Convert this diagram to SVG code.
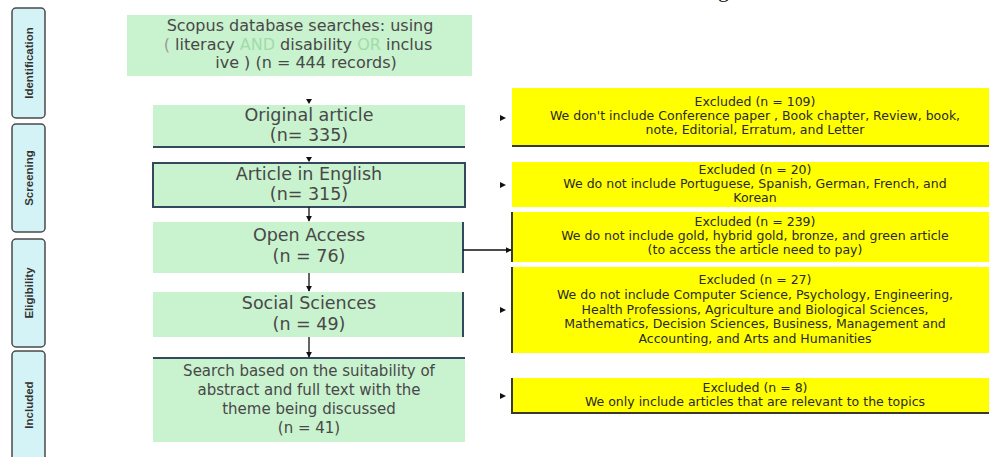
<svg xmlns="http://www.w3.org/2000/svg" width="989" height="457" viewBox="0 0 989 457">
<style>
.side{fill:#d4f3f7;stroke:#4a4a4a;stroke-width:1.5}
.sl{font-family:"Liberation Sans",Arial,sans-serif;font-size:11.5px;font-weight:bold;fill:#333;text-anchor:middle}
.g{fill:#c9f2cf}
.ft{font-family:"DejaVu Sans","Liberation Sans",sans-serif;font-size:17.5px;fill:#484848;text-anchor:middle}
.ft16{font-size:16px}
.ft15{font-size:15px}
.lt{fill:#9fdca8}
.y{fill:#ffff00}
.yt{font-family:"DejaVu Sans","Liberation Sans",sans-serif;font-size:12.5px;fill:#2a2a2a;text-anchor:middle}
.bd{stroke:#34495e;stroke-width:2;fill:none}
.ybd{stroke:#3a3a2a;stroke-width:2;fill:none}
.c{stroke:#111;stroke-width:1.3;fill:none}
.ah{fill:#111}
</style>
<defs>
<marker id="arr" viewBox="0 0 8 8" refX="7" refY="4" markerWidth="6" markerHeight="6" orient="auto" markerUnits="userSpaceOnUse">
<path d="M0,0 L8,4 L0,8 z" fill="#111"/>
</marker>
</defs>
<rect width="989" height="457" fill="#ffffff"/>
<text x="718" y="-3" font-family="Liberation Serif,serif" font-size="22" fill="#111">g</text>

<g id="side-identification"><rect class="side" x="12" y="8" width="33" height="110" rx="4"/><text class="sl" transform="translate(33,63) rotate(-90)">Identification</text></g>
<g id="side-screening"><rect class="side" x="12" y="124" width="33" height="108" rx="4"/><text class="sl" transform="translate(33,178) rotate(-90)">Screening</text></g>
<g id="side-eligibility"><rect class="side" x="12" y="239" width="33" height="108" rx="4"/><text class="sl" transform="translate(33,293) rotate(-90)">Eligibility</text></g>
<g id="side-included"><rect class="side" x="12" y="351" width="33" height="112" rx="4"/><text class="sl" transform="translate(33,405) rotate(-90)">Included</text></g>

<g id="n-scopus"><rect class="g" x="127" y="15" width="345" height="61"/>
<text class="ft ft16" x="300" y="31">Scopus database searches: using</text>
<text class="ft ft16" x="298" y="49.5"><tspan fill="#9a9a9a">(</tspan> literacy <tspan class="lt">AND</tspan> disability <tspan class="lt">OR</tspan> inclus</text>
<text class="ft ft16" x="306" y="68">ive ) (n = 444 records)</text></g>

<g id="n-original"><rect class="g" x="153" y="105" width="312" height="42"/><line class="bd" x1="153" y1="147" x2="465" y2="147"/>
<text class="ft" x="309" y="121">Original article</text><text class="ft" x="309" y="141">(n= 335)</text></g>

<g id="n-english"><rect class="g" x="153" y="163" width="312" height="44"/><rect class="bd" x="153" y="163" width="312" height="44"/>
<text class="ft" x="309" y="180">Article in English</text><text class="ft" x="309" y="200">(n= 315)</text></g>

<g id="n-open"><rect class="g" x="153" y="222" width="310" height="51"/><line class="bd" x1="463" y1="222" x2="463" y2="273"/>
<text class="ft" x="309" y="241">Open Access</text><text class="ft" x="309" y="262">(n = 76)</text></g>

<g id="n-social"><rect class="g" x="153" y="292" width="310" height="45"/><line class="bd" x1="463" y1="292" x2="463" y2="337"/>
<text class="ft" x="309" y="309">Social Sciences</text><text class="ft" x="309" y="330">(n = 49)</text></g>

<g id="n-search"><rect class="g" x="153" y="358" width="312" height="84"/><line class="bd" x1="153" y1="358" x2="465" y2="358"/>
<text class="ft ft15" x="309" y="376">Search based on the suitability of</text>
<text class="ft ft15" x="309" y="395">abstract and full text with the</text>
<text class="ft ft15" x="309" y="414">theme being discussed</text>
<text class="ft ft15" x="309" y="433">(n = 41)</text></g>

<g id="x-1"><rect class="y" x="512" y="88" width="477" height="58"/><line class="ybd" x1="512" y1="146" x2="989" y2="146"/>
<text class="yt" x="755" y="106">Excluded (n = 109)</text>
<text class="yt" x="755" y="120">We don't include Conference paper , Book chapter, Review, book,</text>
<text class="yt" x="755" y="134">note, Editorial, Erratum, and Letter</text></g>

<g id="x-2"><rect class="y" x="512" y="162" width="477" height="45"/>
<text class="yt" x="755" y="174">Excluded (n = 20)</text>
<text class="yt" x="755" y="188">We do not include Portuguese, Spanish, German, French, and</text>
<text class="yt" x="755" y="202">Korean</text></g>

<g id="x-3"><rect class="y" x="512" y="212" width="477" height="50"/><line class="ybd" x1="512" y1="212" x2="512" y2="262"/>
<text class="yt" x="755" y="226">Excluded (n = 239)</text>
<text class="yt" x="755" y="240">We do not include gold, hybrid gold, bronze, and green article</text>
<text class="yt" x="755" y="254">(to access the article need to pay)</text></g>

<g id="x-4"><rect class="y" x="512" y="267" width="477" height="86"/><line class="ybd" x1="512" y1="267" x2="512" y2="353"/>
<text class="yt" x="755" y="284">Excluded (n = 27)</text>
<text class="yt" x="755" y="299">We do not include Computer Science, Psychology, Engineering,</text>
<text class="yt" x="755" y="313.5">Health Professions, Agriculture and Biological Sciences,</text>
<text class="yt" x="755" y="328">Mathematics, Decision Sciences, Business, Management and</text>
<text class="yt" x="755" y="342.5">Accounting, and Arts and Humanities</text></g>

<g id="x-5"><rect class="y" x="512" y="378" width="477" height="35"/><polyline class="ybd" points="512,378 512,413 989,413"/>
<text class="yt" x="755" y="392">Excluded (n = 8)</text>
<text class="yt" x="755" y="406">We only include articles that are relevant to the topics</text></g>

<g id="connectors">
<path class="ah" d="M306,99 L312,99 L309,104 z"/>
<path class="ah" d="M306,157 L312,157 L309,162 z"/>
<line class="c" x1="309" y1="207" x2="309" y2="221" marker-end="url(#arr)"/>
<line class="c" x1="309" y1="273" x2="309" y2="291" marker-end="url(#arr)"/>
<line class="c" x1="309" y1="337" x2="309" y2="357" marker-end="url(#arr)"/>
<line class="c" x1="463" y1="250" x2="511" y2="250" marker-end="url(#arr)"/>
<path class="ah" d="M500,115 L506,118 L500,121 z"/>
<path class="ah" d="M500,182 L506,185 L500,188 z"/>
<path class="ah" d="M500,307 L506,310 L500,313 z"/>
<path class="ah" d="M500,393 L506,396 L500,399 z"/>
</g>
</svg>
